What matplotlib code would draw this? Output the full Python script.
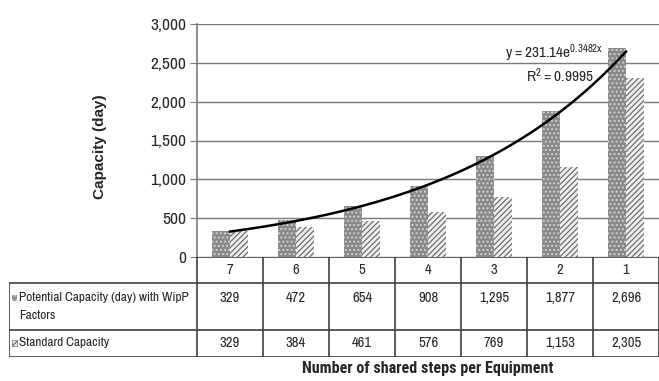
import numpy as np
import matplotlib
matplotlib.use("Agg")
import matplotlib.pyplot as plt
from matplotlib.patches import Rectangle

plt.rcParams['font.family'] = ['Archivo Narrow', 'Liberation Sans', 'DejaVu Sans']
plt.rcParams['hatch.linewidth'] = 0.9

steps = ['7', '6', '5', '4', '3', '2', '1']
potential = [329, 472, 654, 908, 1295, 1877, 2696]
standard = [329, 384, 461, 576, 769, 1153, 2305]
row_names = ['Potential Capacity (day) with WipP\nFactors', 'Standard Capacity']

# exponential trendline as given on the chart
fit_a, fit_b = 231.14, 0.3482
fit_r2 = 0.9995

W, H = 659, 381
fig = plt.figure(figsize=(W / 100, H / 100), dpi=100)
txt = '#262626'

# --- bar area -----------------------------------------------------------
ax = fig.add_axes((197 / W, 1 - 257 / H, 462 / W, 233 / H))
x = np.arange(len(steps))
bw = 0.28
dark = '#8a8a8a'
ax.bar(x - bw / 2, potential, bw, color=dark, edgecolor='#d6d6d6',
       hatch='....', linewidth=0, zorder=3)
ax.bar(x + bw / 2, standard, bw, color='#f0f0f0', edgecolor='#6e6e6e',
       hatch='//////', linewidth=0, zorder=3)

tx = np.linspace(1, 7, 200)
ax.plot(tx - 1, fit_a * np.exp(fit_b * tx), color='black', lw=1.8, zorder=4)
ax.text(5.65, 2627, r'$\mathregular{y = 231.14e^{0.3482x}}$', ha='right',
        va='center', fontsize=11, color=txt, zorder=5)
ax.text(5.0, 2330, r'$\mathregular{R^2 = %.4f}$' % fit_r2, ha='center',
        va='center', fontsize=11, color=txt, zorder=5)

ax.set_xlim(-0.5, 6.5)
ax.set_ylim(0, 3000)
ax.set_yticks(range(0, 3001, 500))
ax.set_yticklabels([f'{v:,}' for v in range(0, 3001, 500)], fontsize=12.5,
                   color=txt)
ax.set_xticks([])
ax.grid(axis='y', color='#7a7a7a', lw=1, zorder=0)
ax.tick_params(axis='y', direction='out', length=5, color='#7a7a7a', pad=3)
for s in ['top', 'right', 'bottom']:
    ax.spines[s].set_visible(False)
ax.spines['left'].set_color('#7a7a7a')
ax.spines['left'].set_linewidth(1.2)

fig.text(100 / W, 1 - 147 / H, 'Capacity (day)', rotation=90, ha='center',
         va='center', fontsize=11, fontweight='bold', family='Liberation Sans',
         color=txt)

# --- data table underneath --------------------------------------------
tb = fig.add_axes((9 / W, 1 - 357 / H, 650 / W, 100 / H))
left = -0.5 - 188 / 66
tb.set_xlim(left, 6.5)
tb.set_ylim(100, 0)
tb.axis('off')
lc = '#404040'
lw = 1.2
tb.hlines(0, -0.5, 6.5, color=lc, lw=lw)
tb.hlines([26, 73, 100], left, 6.5, color=lc, lw=lw)
tb.vlines(left, 26, 100, color=lc, lw=lw)
tb.vlines(np.arange(len(steps) + 1) - 0.5, 0, 100, color=lc, lw=lw)

for i, s in enumerate(steps):
    tb.text(i, 13, s, ha='center', va='center', fontsize=10.5, color=txt)
    tb.text(i, 41, f'{potential[i]:,}', ha='center', va='center',
            fontsize=10.5, color=txt)
    tb.text(i, 86, f'{standard[i]:,}', ha='center', va='center',
            fontsize=10.5, color=txt)

sx = left + 3 / 66
tb.add_patch(Rectangle((sx, 38), 5 / 66, 6, facecolor=dark, edgecolor='#d6d6d6',
                       hatch='....', linewidth=0))
tb.add_patch(Rectangle((sx, 83), 5 / 66, 6, facecolor='#f0f0f0',
                       edgecolor='#6e6e6e', hatch='////', linewidth=0.5))
tb.text(left + 10 / 66, 26 + 23.5, row_names[0], ha='left', va='center',
        fontsize=9.6, linespacing=1.7, color=txt)
tb.text(left + 10 / 66, 86, row_names[1], ha='left', va='center',
        fontsize=9.6, color=txt)

fig.text(428 / W, 1 - 368 / H, 'Number of shared steps per Equipment',
         ha='center', va='center', fontsize=11.6, fontweight='bold',
         family=['Roboto Condensed', 'Liberation Sans'], color=txt)

fig.savefig('out.png', dpi=100)
